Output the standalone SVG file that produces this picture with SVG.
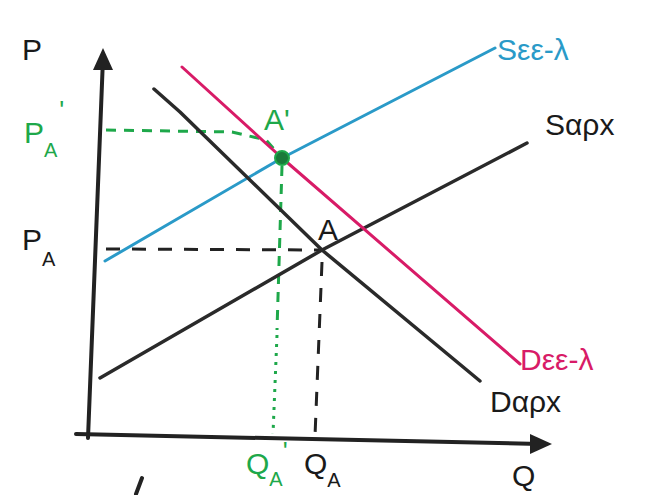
<svg xmlns="http://www.w3.org/2000/svg" width="646" height="495" viewBox="0 0 646 495">
<style>
.ax{stroke:#222;stroke-width:4;fill:none;stroke-linecap:round}
.blk{stroke:#2a2a2a;stroke-width:3.5;fill:none;stroke-linecap:round;stroke-linejoin:round}
.blu{stroke:#2a9ac8;stroke-width:3;fill:none;stroke-linecap:round;stroke-linejoin:round}
.pnk{stroke:#d81b67;stroke-width:3;fill:none;stroke-linecap:round;stroke-linejoin:round}
.dsh{stroke:#222;stroke-width:3;fill:none;stroke-dasharray:14 12}
.gdsh{stroke:#1ea84a;stroke-width:3;fill:none;stroke-dasharray:10 8}
.gdot{stroke:#1ea84a;stroke-width:3;fill:none;stroke-dasharray:3 6}
text{font-family:"Liberation Sans",sans-serif;font-size:30px}
.k{fill:#1a1a1a}
.g{fill:#1ea84a}
.b{fill:#2a9ac8}
.p{fill:#d81b67}
.sub{font-size:20px}
</style>
<rect width="646" height="495" fill="#fff"/>
<g id="connectors">
<line class="dsh" x1="106" y1="249" x2="322" y2="250"/>
<line class="dsh" x1="322" y1="262" x2="315" y2="436"/>
<path class="gdsh" d="M106 130 L232 132 L266 140 L282 158"/>
<line class="gdsh" x1="282" y1="166" x2="277" y2="330"/>
<line class="gdot" x1="277" y1="335" x2="273" y2="434"/>
</g>
<g id="axes">
<path class="ax" d="M88 438 L103 58"/>
<path d="M103 48 L93 70 L113 70 Z" fill="#222"/>
<path class="ax" d="M76 434 L540 444"/>
<path d="M552 444 L530 434 L530 454 Z" fill="#222"/>
</g>
<g id="curve-S-eq"><polyline class="blk" points="100,378 322,250 527,143"/></g>
<g id="curve-S-shift"><polyline class="blu" points="105,261 282,158 495,48"/></g>
<g id="curve-D-eq"><polyline class="blk" points="154,89 180,112 322,250 480,381"/></g>
<g id="curve-D-shift"><polyline class="pnk" points="182,67 282,158 520,364"/></g>
<g id="point-A-prime"><circle cx="282" cy="158" r="7" fill="#1a7a3a" stroke="#1ea84a" stroke-width="2"/></g>
<g id="labels">
<text class="k" x="22" y="60">P</text>
<text class="g" x="24" y="143">P<tspan class="sub" dy="14">A</tspan><tspan dx="2" dy="-38" font-size="26">'</tspan></text>
<text class="k" x="22" y="250">P<tspan class="sub" dy="16">A</tspan></text>
<text class="g" x="264" y="130">A'</text>
<text class="k" x="318" y="240">A</text>
<text class="b" x="497" y="60">Sεε-λ</text>
<text class="k" x="545" y="135">Sαρx</text>
<text class="p" x="520" y="370">Dεε-λ</text>
<text class="k" x="490" y="412">Dαρx</text>
<text class="g" x="246" y="474">Q<tspan class="sub" dy="12">A</tspan><tspan dy="-26" font-size="26">'</tspan></text>
<text class="k" x="304" y="474">Q<tspan class="sub" dy="13">A</tspan></text>
<text class="k" x="512" y="486">Q</text>
</g>
<path class="ax" d="M142 478 L136 494"/>
</svg>
